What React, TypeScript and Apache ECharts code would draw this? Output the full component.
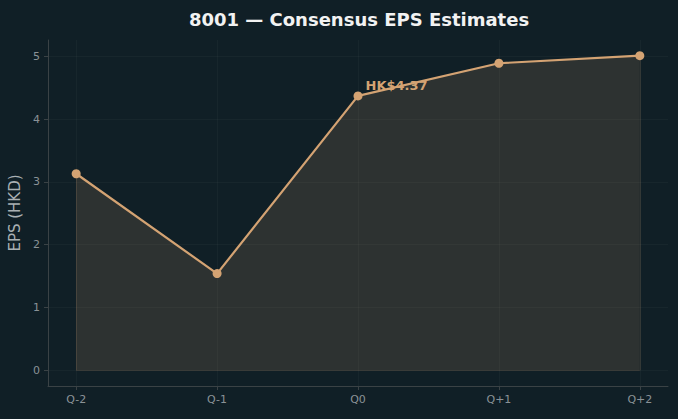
import React, { useEffect, useRef } from "react";
import * as echarts from "echarts";

const categories = ["Q-2", "Q-1", "Q0", "Q+1", "Q+2"];
const epsValues = [3.13, 1.54, 4.37, 4.89, 5.01];
const yTicks = [0, 1, 2, 3, 4, 5];
const highlightIndex = 2;
const highlightLabel = "HK$4.37";

const BG = "#101f26";
const LINE = "#d4a373";
const FILL = "rgba(212,163,115,0.15)";
const SPINE = "#3a4245";
const TICKTXT = "#8a9296";
const FONT = "DejaVu Sans";

export default function App() {
  const ref = useRef<HTMLDivElement>(null);
  useEffect(() => {
    if (!ref.current) return;
    const chart = echarts.init(ref.current, undefined, { renderer: "svg" });
    const xIdx = categories.map((_, i) => i);
    const last = categories.length - 1;
    const data = epsValues.map((v, i) =>
      i === highlightIndex
        ? {
            value: [i, v],
            label: {
              show: true,
              position: "right",
              distance: 3,
              offset: [0, -10],
              formatter: highlightLabel,
              color: LINE,
              fontWeight: "bold",
              fontSize: 13,
              fontFamily: FONT,
            },
          }
        : { value: [i, v] }
    );
    chart.setOption({
      animation: false,
      backgroundColor: BG,
      title: {
        text: "8001 — Consensus EPS Estimates",
        left: 354,
        textAlign: "center",
        top: 5,
        textStyle: { color: "#f2f2f2", fontSize: 18, fontWeight: "bold", fontFamily: FONT },
      },
      grid: { left: 48, right: 10, top: 40, bottom: 33, containLabel: false, outerBoundsMode: "none" },
      xAxis: {
        type: "value",
        min: -0.2,
        max: 4.2,
        axisLine: { show: true, onZero: false, lineStyle: { color: SPINE, width: 1 } },
        axisTick: { show: true, customValues: xIdx, length: 4, lineStyle: { color: SPINE } },
        axisLabel: {
          customValues: xIdx,
          formatter: (v: number) => categories[Math.round(v)] ?? "",
          color: TICKTXT,
          fontSize: 11,
          fontFamily: FONT,
          margin: 8,
        },
        splitLine: { show: true, lineStyle: { color: "rgba(255,255,255,0.03)" } },
      },
      yAxis: {
        type: "value",
        min: -0.25,
        max: 5.26,
        name: "EPS (HKD)",
        nameLocation: "middle",
        nameGap: 24,
        nameTextStyle: { color: "#a9b0b3", fontSize: 15, fontFamily: FONT },
        axisLine: { show: true, onZero: false, lineStyle: { color: SPINE, width: 1 } },
        axisTick: { show: true, customValues: yTicks, length: 4, lineStyle: { color: SPINE } },
        axisLabel: {
          customValues: yTicks,
          color: TICKTXT,
          fontSize: 11,
          fontFamily: FONT,
          margin: 8,
        },
        splitLine: { show: true, lineStyle: { color: "rgba(255,255,255,0.03)" } },
      },
      series: [
        {
          type: "line",
          data,
          symbol: "circle",
          symbolSize: 9,
          itemStyle: { color: LINE },
          lineStyle: { color: LINE, width: 2.2 },
          areaStyle: { color: FILL, opacity: 1, origin: 0 },
          z: 3,
          markLine: {
            silent: true,
            symbol: "none",
            label: { show: false },
            lineStyle: { color: FILL, width: 1, type: "solid" },
            data: [
              [{ coord: [0, 0] }, { coord: [0, epsValues[0]] }],
              [{ coord: [0, 0] }, { coord: [last, 0] }],
              [{ coord: [last, 0] }, { coord: [last, epsValues[last]] }],
            ],
          },
        },
      ],
    });
    return () => chart.dispose();
  }, []);
  return <div ref={ref} style={{ width: 678, height: 419, position: "absolute", left: 0, top: 0 }} />;
}
